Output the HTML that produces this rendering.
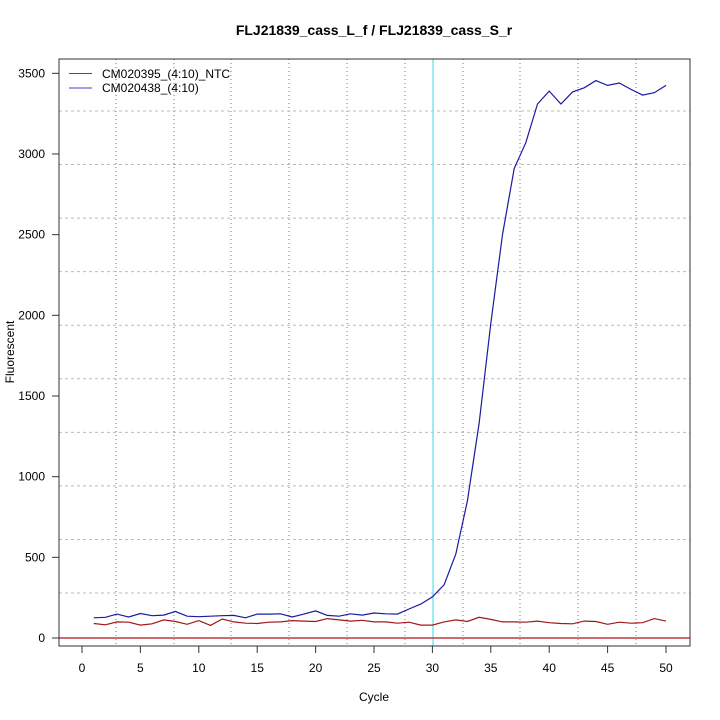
<!DOCTYPE html>
<html><head><meta charset="utf-8"><style>
html,body{margin:0;padding:0;background:#fff;}
svg{display:block;font-family:"Liberation Sans",sans-serif;}
</style></head><body>
<svg id="s" width="720" height="720" xmlns="http://www.w3.org/2000/svg">
<rect width="720" height="720" fill="#fff"/>
<text x="374" y="35" text-anchor="middle" font-size="14" font-weight="bold">FLJ21839_cass_L_f / FLJ21839_cass_S_r</text>
<g id="grid"></g>
<line x1="433" y1="59" x2="433" y2="646" stroke="#7fe6ee" stroke-width="1.5"/>
<line x1="59" y1="638" x2="690" y2="638" stroke="#c0393b" stroke-width="1.5"/>
<g id="data"></g>
<rect x="59" y="59" width="631" height="587" fill="none" stroke="#333" stroke-width="1"/>
<g id="axes" font-size="12"></g>
<text x="374" y="701" text-anchor="middle" font-size="12">Cycle</text>
<text transform="translate(14,352) rotate(-90)" text-anchor="middle" font-size="12">Fluorescent</text>
<line x1="69" y1="73.5" x2="92" y2="73.5" stroke="#a03030" stroke-width="1"/>
<line x1="69" y1="88" x2="92" y2="88" stroke="#8080e0" stroke-width="1.5"/>
<text x="102" y="78" font-size="12">CM020395_(4:10)_NTC</text>
<text x="102" y="92" font-size="12">CM020438_(4:10)</text>
</svg>
<script>
var NS="http://www.w3.org/2000/svg";
function el(p,t,a,txt){var e=document.createElementNS(NS,t);for(var k in a)e.setAttribute(k,a[k]);if(txt!=null)e.textContent=txt;p.appendChild(e);return e;}
var g=document.getElementById("grid"),ax=document.getElementById("axes"),d=document.getElementById("data");
[116,174,231,289,347,405,463,520,578,636].forEach(function(x){el(g,"line",{x1:x,y1:59,x2:x,y2:646,stroke:"#777","stroke-dasharray":"1,3"});});
for(var i=0;i<10;i++){var y=111+i*53.56;el(g,"line",{x1:59,y1:y,x2:690,y2:y,stroke:"#bbb","stroke-dasharray":"3,3"});}
function X(c){return 82+11.68*c;}function Y(v){return 638-0.16134*v;}
for(var c=0;c<=50;c+=5){el(ax,"line",{x1:X(c),y1:646,x2:X(c),y2:653,stroke:"#333"});el(ax,"text",{x:X(c),y:672,"text-anchor":"middle"},String(c));}
for(var v=0;v<=3500;v+=500){el(ax,"line",{x1:52,y1:Y(v),x2:59,y2:Y(v),stroke:"#333"});el(ax,"text",{x:45,y:Y(v)+4,"text-anchor":"end"},String(v));}
var blue=[125,128,148,130,152,138,142,165,135,132,135,138,140,125,148,148,150,130,148,168,140,135,150,142,155,150,148,180,210,255,330,520,850,1330,1950,2500,2910,3070,3310,3390,3310,3385,3410,3455,3425,3440,3400,3365,3380,3425];
var red=[90,82,100,98,80,88,112,102,85,108,78,118,100,92,90,98,100,108,105,102,120,112,105,110,100,100,92,98,80,80,100,112,102,128,115,100,100,98,105,95,90,88,105,102,85,98,92,95,120,105];
function pl(a,col){el(d,"polyline",{points:a.map(function(v,i){return X(i+1).toFixed(1)+","+Y(v).toFixed(1);}).join(" "),fill:"none",stroke:col,"stroke-width":1.2});}
pl(red,"#a01818");pl(blue,"#1a1aa0");
</script>
</body></html>
